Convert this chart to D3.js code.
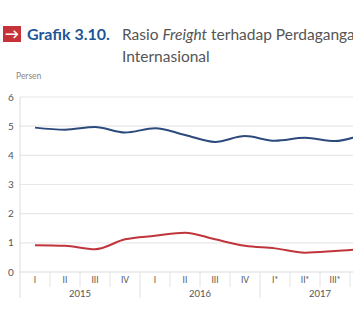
<!DOCTYPE html>
<html>
<head>
<meta charset="utf-8">
<script src="https://cdn.jsdelivr.net/npm/d3@7"></script>
<style>
  body { margin: 0; background: #fff; overflow: hidden; }
  svg { display: block; font-family: Lato, "Open Sans", sans-serif; }
</style>
</head>
<body>
<svg id="chart" width="353" height="309"></svg>
<script>
// quarters and years
var quarters = ["I", "II", "III", "IV", "I", "II", "III", "IV", "I*", "II*", "III*", "IV*"];
var years = ["2015", "2016", "2017"];
var yTicks = [0, 1, 2, 3, 4, 5, 6];

// freight ratio, persen
var seriesBlue = [4.95, 4.88, 4.97, 4.78, 4.93, 4.70, 4.46, 4.66, 4.50, 4.60, 4.49, 4.75];
var seriesRed = [0.92, 0.90, 0.78, 1.12, 1.24, 1.35, 1.12, 0.90, 0.81, 0.66, 0.72, 0.80];

var svg = d3.select("#chart");

var plotLeft = 20, plotTop = 97, plotBottom = 272, bandW = 30;

var x = d3.scaleBand()
    .domain(d3.range(quarters.length))
    .range([plotLeft, plotLeft + bandW * quarters.length])
    .padding(0);

var y = d3.scaleLinear().domain([0, 6]).range([plotBottom, plotTop]);

// title
svg.append("rect").attr("x", 3).attr("y", 26).attr("width", 18).attr("height", 16).attr("fill", "#c6323a");
svg.append("text").attr("x", 12).attr("y", 38.5).attr("text-anchor", "middle")
    .attr("fill", "#fff").attr("font-size", 14).attr("font-weight", "bold").text("\u2192");
svg.append("text").attr("x", 27).attr("y", 40).attr("fill", "#1f5597")
    .attr("font-size", 16).attr("font-weight", "bold").text("Grafik 3.10.");
var t = svg.append("text").attr("x", 122).attr("y", 40).attr("fill", "#555")
    .attr("font-size", 15.5);
t.append("tspan").text("Rasio ");
t.append("tspan").attr("font-style", "italic").text("Freight");
t.append("tspan").text(" terhadap Perdagangan");
svg.append("text").attr("x", 122).attr("y", 62).attr("fill", "#555")
    .attr("font-size", 15.5).text("Internasional");

svg.append("text").attr("x", 16).attr("y", 79).attr("fill", "#888")
    .attr("font-size", 8.5).text("Persen");

// gridlines
svg.append("g").selectAll("line").data(yTicks).enter().append("line")
    .attr("x1", plotLeft).attr("x2", 353)
    .attr("y1", function(d) { return y(d); }).attr("y2", function(d) { return y(d); })
    .attr("stroke", function(d) { return d == 0 ? "#dcdcdc" : "#e8e8e8"; })
    .attr("stroke-width", 1.2);

svg.append("g").selectAll("text").data(yTicks).enter().append("text")
    .attr("x", 11).attr("y", function(d) { return y(d) + 3.5; })
    .attr("text-anchor", "middle").attr("fill", "#555").attr("font-size", 10)
    .text(function(d) { return d; });

// axis line
svg.append("line").attr("x1", plotLeft).attr("x2", plotLeft).attr("y1", plotTop).attr("y2", 298)
    .attr("stroke", "#dcdcdc");

// quarter separators
svg.append("g").selectAll("line").data(d3.range(1, quarters.length)).enter().append("line")
    .attr("x1", function(d) { return x(d); }).attr("x2", function(d) { return x(d); })
    .attr("y1", plotBottom).attr("y2", function(d) { return d % 4 == 0 ? 298 : 287; })
    .attr("stroke", "#e2e2e2");

svg.append("g").selectAll("text").data(quarters).enter().append("text")
    .attr("x", function(d, i) { return x(i) + bandW / 2; }).attr("y", 283)
    .attr("text-anchor", "middle").attr("fill", "#555").attr("font-size", 8.5)
    .text(function(d) { return d; });

svg.append("g").selectAll("text").data(years).enter().append("text")
    .attr("x", function(d, i) { return x(i * 4) + bandW * 2; }).attr("y", 297)
    .attr("text-anchor", "middle").attr("fill", "#555").attr("font-size", 9.5)
    .text(function(d) { return d; });

// lines
var line = d3.line()
    .x(function(d, i) { return x(i) + bandW / 2; })
    .y(function(d) { return y(d); })
    .curve(d3.curveMonotoneX);

svg.append("path").datum(seriesBlue).attr("d", line)
    .attr("fill", "none").attr("stroke", "#2d4a7c").attr("stroke-width", 2);
svg.append("path").datum(seriesRed).attr("d", line)
    .attr("fill", "none").attr("stroke", "#c0353b").attr("stroke-width", 2);
</script>
</body>
</html>
